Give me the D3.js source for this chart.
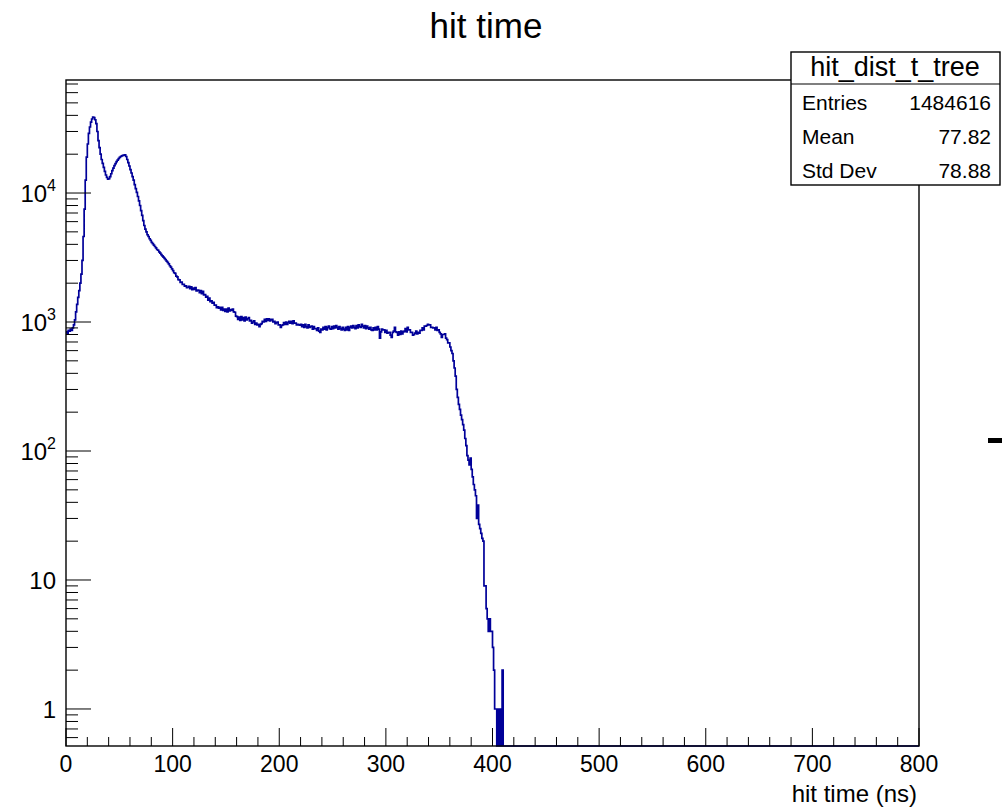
<!DOCTYPE html>
<html>
<head>
<meta charset="utf-8">
<script src="https://cdn.jsdelivr.net/npm/d3@7"></script>
<style>
  body { margin: 0; background: #fff; }
  svg { display: block; font-family: "Liberation Sans", Arial, Helvetica, sans-serif; }
</style>
</head>
<body>
<div id="chart"></div>
<script>
// histogram "hit_dist_t_tree": 1 ns bins starting at 0, bins after the last listed one are empty
const binWidth = 1;
const xRange = [0, 800];
const counts = [
  840, 820, 860, 850, 880, 860, 900, 950, 1040, 1200,
  1370, 1550, 1750, 2000, 2350, 3000, 4600, 7500, 12600, 19000,
  24000, 29000, 32500, 35500, 37500, 38700, 38500, 37000, 34500, 30000,
  25500, 22500, 20000, 18200, 17000, 15800, 14700, 13800, 13200, 12800,
  12900, 13400, 14100, 14900, 15600, 16300, 16900, 17500, 18000, 18500,
  18900, 19200, 19400, 19600, 19700, 19800, 19200, 18200, 17200, 16200,
  15200, 14300, 13400, 12600, 11600, 10800, 10100, 9400, 8700, 8000,
  7300, 6700, 6100, 5600, 5250, 5000, 4750, 4600, 4420, 4300,
  4150, 4050, 3950, 3850, 3760, 3650, 3600, 3500, 3420, 3330,
  3260, 3190, 3110, 3050, 2960, 2900, 2820, 2730, 2660, 2580,
  2500, 2410, 2380, 2270, 2240, 2130, 2120, 2030, 2040, 1960,
  1960, 1900, 1910, 1850, 1860, 1890, 1810, 1870, 1780, 1830,
  1790, 1850, 1740, 1770, 1760, 1690, 1750, 1660, 1730, 1620,
  1630, 1560, 1580, 1480, 1530, 1440, 1460, 1400, 1420, 1350,
  1350, 1290, 1310, 1280, 1300, 1240, 1300, 1230, 1260, 1210,
  1260, 1200, 1280, 1220, 1250, 1230, 1260, 1200, 1190, 1110,
  1100, 1050, 1090, 1030, 1100, 1040, 1080, 1020, 1090, 1040,
  1060, 1080, 1020, 1030, 980, 1000, 1020, 960, 980, 950,
  960, 920, 960, 970, 1010, 1000, 1050, 1010, 1060, 1030,
  1060, 1020, 1040, 1050, 1000, 1010, 970, 990, 1000, 950,
  950, 910, 940, 950, 990, 960, 1000, 960, 990, 1010,
  980, 1010, 970, 1020, 980, 980, 950, 960, 950, 945,
  960, 920, 950, 910, 960, 920, 900, 950, 910, 920,
  930, 880, 920, 890, 890, 860, 900, 850, 830, 880,
  870, 910, 880, 920, 870, 910, 930, 890, 880, 920,
  890, 930, 900, 940, 910, 880, 920, 890, 870, 910,
  880, 860, 910, 870, 920, 860, 910, 930, 900, 940,
  910, 890, 940, 900, 950, 920, 910, 960, 930, 900,
  940, 890, 930, 900, 880, 910, 870, 860, 900, 870,
  910, 870, 920, 880, 750, 840, 880, 870, 870, 830,
  860, 820, 830, 830, 790, 760, 830, 850, 910, 840,
  830, 790, 840, 800, 850, 810, 840, 850, 890, 840,
  910, 870, 870, 830, 830, 790, 800, 820, 850, 810,
  830, 820, 860, 860, 900, 870, 930, 930, 940, 960,
  950, 950, 910, 910, 900, 900, 870, 910, 860, 870,
  830, 810, 760, 800, 800, 810, 750, 730, 690, 690,
  640, 600, 570, 500, 440, 380, 300, 260, 230, 210,
  190, 175, 160, 145, 125, 110, 92, 85, 78, 88,
  72, 63, 55, 50, 45, 30, 38, 27, 25, 23,
  21, 20, 9, 9, 6, 5, 4, 5, 4, 4,
  3, 2, 1, 1, 0, 1, 0, 1, 0, 2,
  0, 0, 0
];
const xTickValues = [0, 100, 200, 300, 400, 500, 600, 700, 800];
const yTickValues = [1, 10, 100, 1000, 10000];
const yTickLabels = [['1', ''], ['10', ''], ['10', '2'], ['10', '3'], ['10', '4']];
const yDomain = [0.5164, 75200];
const titleText = 'hit time';
const xTitle = 'hit time (ns)';
const statsName = 'hit_dist_t_tree';
const statsRows = [['Entries', '1484616'], ['Mean', '77.82'], ['Std Dev', '78.88']];

const width = 1002, height = 808;
const margin = { top: 80, right: 83, bottom: 62, left: 66 };

const svg = d3.select('#chart').append('svg')
  .attr('width', width)
  .attr('height', height);

const x = d3.scaleLinear().domain(xRange).range([margin.left, width - margin.right]);
const y = d3.scaleLog().domain(yDomain).range([height - margin.bottom, margin.top]).clamp(true);
const yBottom = height - margin.bottom;
const yPos = v => v > 0 ? y(v) : yBottom;

// histogram step line
let d = '';
counts.forEach((c, i) => {
  const x0 = x(i * binWidth), x1 = x((i + 1) * binWidth), yy = yPos(c);
  d += (i === 0 ? `M${x0},${yy}` : `L${x0},${yy}`) + `L${x1},${yy}`;
});
d += `L${x(xRange[1])},${yBottom}`;

svg.append('path')
  .attr('d', d)
  .attr('fill', 'none')
  .attr('stroke', '#000099')
  .attr('stroke-width', 1.7);

// frame
svg.append('rect')
  .attr('x', x(xRange[0])).attr('y', margin.top)
  .attr('width', x(xRange[1]) - x(xRange[0]))
  .attr('height', yBottom - margin.top)
  .attr('fill', 'none').attr('stroke', '#000').attr('stroke-width', 1.4);

// x ticks (inside the frame)
const xMinor = d3.range(xRange[0], xRange[1] + 1, 20);
svg.append('g').selectAll('line').data(xMinor).join('line')
  .attr('x1', v => x(v)).attr('x2', v => x(v))
  .attr('y1', yBottom)
  .attr('y2', v => yBottom - (v % 100 === 0 ? 18 : 9))
  .attr('stroke', '#000').attr('stroke-width', 1);

svg.append('g').selectAll('text').data(xTickValues).join('text')
  .attr('x', v => x(v)).attr('y', 772)
  .attr('text-anchor', 'middle')
  .attr('font-size', 23)
  .text(v => v);

// y ticks (log scale, inside the frame)
const yMinor = [];
[0.1, 1, 10, 100, 1000, 10000].forEach(dec => {
  for (let k = 1; k <= 9; k++) {
    const v = dec * k;
    if (v >= yDomain[0] && v <= yDomain[1]) yMinor.push(v);
  }
});
svg.append('g').selectAll('line').data(yMinor).join('line')
  .attr('x1', margin.left)
  .attr('x2', v => margin.left + (yTickValues.includes(v) ? 25 : 12))
  .attr('y1', v => y(v)).attr('y2', v => y(v))
  .attr('stroke', '#000').attr('stroke-width', 1);

const yl = svg.append('g').selectAll('text').data(yTickValues).join('text')
  .attr('x', 56).attr('y', v => y(v) + 9)
  .attr('text-anchor', 'end')
  .attr('font-size', 24);
yl.append('tspan').text((v, i) => yTickLabels[i][0]);
yl.append('tspan')
  .attr('font-size', 16).attr('dy', -11)
  .text((v, i) => yTickLabels[i][1]);

// titles
svg.append('text')
  .attr('x', 486).attr('y', 38)
  .attr('text-anchor', 'middle')
  .attr('font-size', 35)
  .text(titleText);

svg.append('text')
  .attr('x', 917).attr('y', 802)
  .attr('text-anchor', 'end')
  .attr('font-size', 24)
  .text(xTitle);

// stats box
const sb = svg.append('g');
sb.append('rect')
  .attr('x', 791).attr('y', 52).attr('width', 209).attr('height', 133)
  .attr('fill', '#fff').attr('stroke', '#000').attr('stroke-width', 1.4);
sb.append('line')
  .attr('x1', 791).attr('x2', 1000).attr('y1', 84).attr('y2', 84)
  .attr('stroke', '#000').attr('stroke-width', 1.2);
sb.append('text')
  .attr('x', 895).attr('y', 76)
  .attr('text-anchor', 'middle').attr('font-size', 27)
  .text(statsName);
statsRows.forEach((r, i) => {
  const by = 110 + i * 34;
  sb.append('text').attr('x', 802).attr('y', by).attr('font-size', 21).text(r[0]);
  sb.append('text').attr('x', 991).attr('y', by).attr('text-anchor', 'end').attr('font-size', 21).text(r[1]);
});

// small dash at the right edge of the pad
svg.append('rect')
  .attr('x', 988).attr('y', 438).attr('width', 14).attr('height', 5)
  .attr('fill', '#000');
</script>
</body>
</html>
